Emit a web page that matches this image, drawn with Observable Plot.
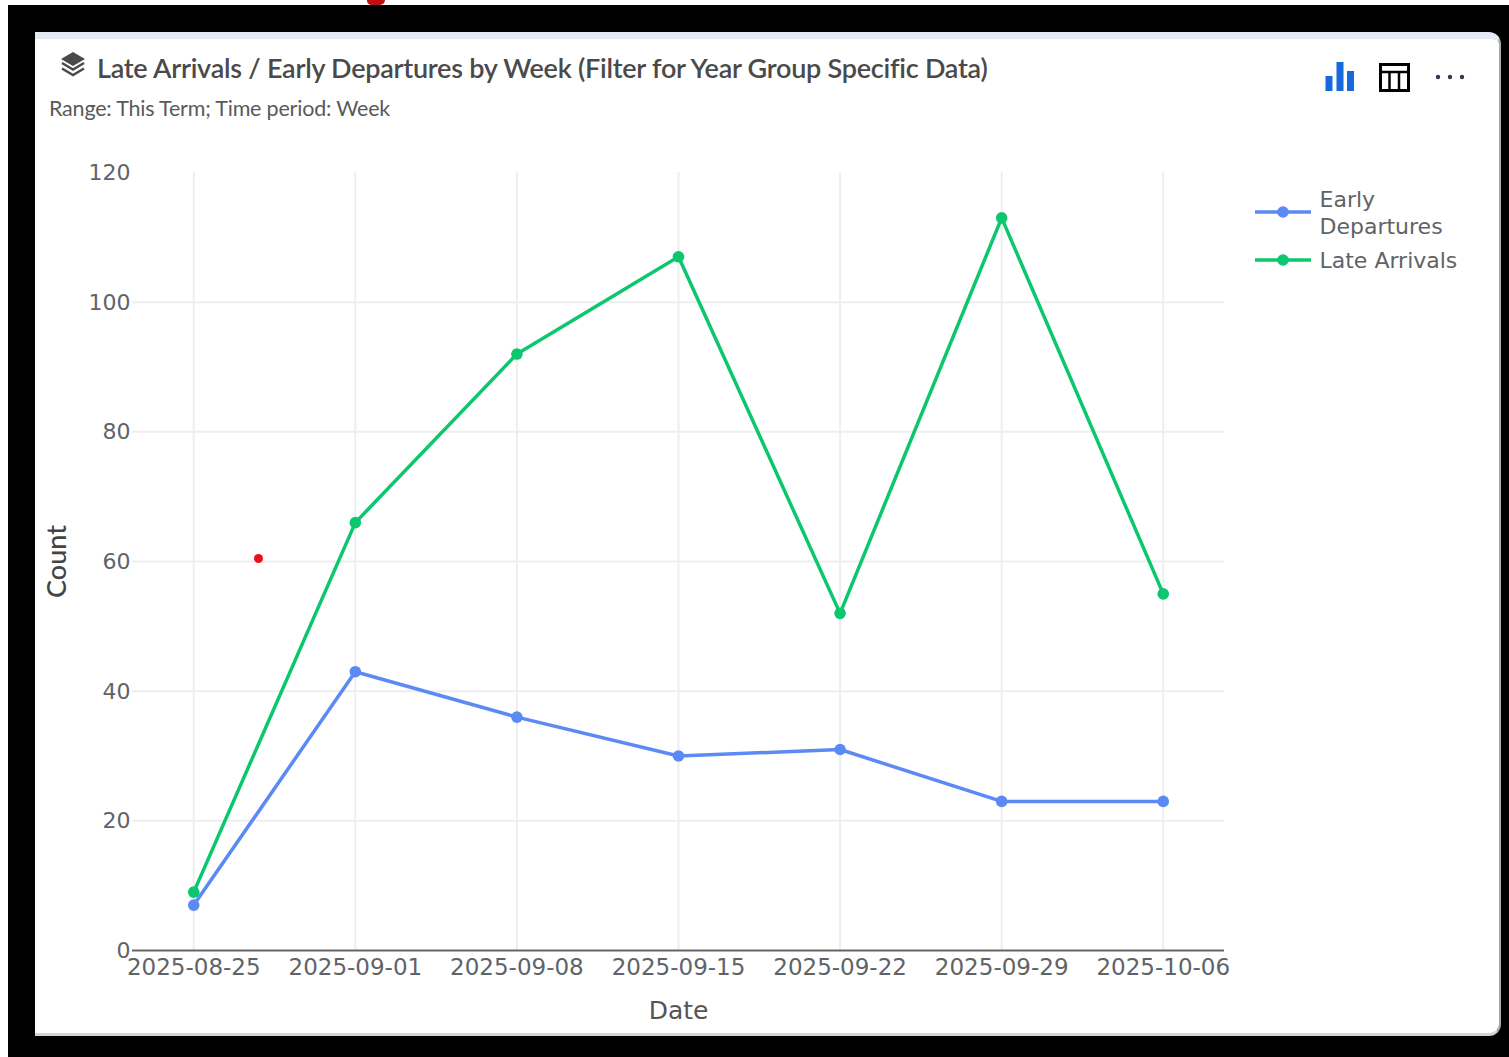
<!DOCTYPE html>
<html><head><meta charset="utf-8">
<script src="https://cdn.jsdelivr.net/npm/d3@7"></script>
<script src="https://cdn.jsdelivr.net/npm/@observablehq/plot@0.6"></script>
<style>
html,body{margin:0;padding:0;width:1509px;height:1057px;overflow:hidden;background:#fff}
#black{position:absolute;left:8px;top:5px;width:1501px;height:1052px;background:#000}
#card{position:absolute;left:35px;top:32px;width:1466px;height:1004px;background:#fff;border-radius:0 12px 12px 0;border-top:7px solid #e6eaf4;box-sizing:border-box;border-bottom:3px solid #d4d4d4;border-right:2px solid #aaa}
#title{position:absolute;left:97px;top:50.5px;font:600 27px/34px Lato,sans-serif;color:#4a4a4a;white-space:nowrap;letter-spacing:-.25px}
#sub{position:absolute;left:49px;top:95px;font:400 21.5px/27px Lato,sans-serif;color:#5a5a5a;white-space:nowrap;letter-spacing:-.2px}
#chart{position:absolute;left:35px;top:140px}
#chart svg{display:block;background:none;overflow:visible}
.ic{position:absolute}
#legend{position:absolute;left:1255px;top:186px;font:22px/27px "DejaVu Sans",sans-serif;color:#5f6368}
.li{position:absolute;left:64.500px;white-space:nowrap}
#legend svg{position:absolute;left:0}
#reddot{position:absolute;left:254px;top:554px;width:9px;height:9px;border-radius:50%;background:#e8101a}
#redtop{position:absolute;left:367px;top:0;width:18px;height:5px;background:#c01010;border-radius:0 0 10px 9px}
</style></head><body>
<div id="black"></div><div id="redtop"></div><div id="card"></div>
<svg class="ic" style="left:60px;top:51px" width="26" height="26" viewBox="0 0 26 26"><path d="M13 1 L25 8 L13 15 L1 8Z" fill="#4a4a4a"/><path d="M2 12 L13 18.500 L24 12 M2 17.500 L13 24 L24 17.500" fill="none" stroke="#4a4a4a" stroke-width="2.400"/></svg>
<div id="title">Late Arrivals / Early Departures by Week (Filter for Year Group Specific Data)</div>
<div id="sub">Range: This Term; Time period: Week</div>
<svg class="ic" style="left:1325px;top:62px" width="30" height="30"><path d="M0.500 14h7v15h-7zM11.500 0h7v29h-7zM22 9h7v20h-7z" fill="#1569dc"/></svg>
<svg class="ic" style="left:1378px;top:62px" width="34" height="30"><rect x="2.500" y="2.500" width="28" height="26" fill="none" stroke="#000" stroke-width="3"/><path d="M2 10h29M11.500 10v18M21 10v18" stroke="#000" stroke-width="2.500" fill="none"/></svg>
<svg class="ic" style="left:1434px;top:72px" width="32" height="10"><circle cx="4" cy="5" r="2.200" fill="#2c3a4f"/><circle cx="16" cy="5" r="2.200" fill="#2c3a4f"/><circle cx="28" cy="5" r="2.200" fill="#2c3a4f"/></svg>
<div id="chart"></div>
<div id="reddot"></div>
<div id="legend">
<svg style="top:19px" width="56" height="14"><path d="M0 7H56" stroke="#5b8af5" stroke-width="3.500"/><circle cx="28" cy="7" r="5.800" fill="#5b8af5"/></svg>
<div class="li" style="top:0">Early</div><div class="li" style="top:27px">Departures</div>
<svg style="top:67px" width="56" height="14"><path d="M0 7H56" stroke="#0cc76e" stroke-width="3.500"/><circle cx="28" cy="7" r="5.800" fill="#0cc76e"/></svg>
<div class="li" style="top:61px">Late Arrivals</div>
</div>
<script>
const dates=["2025-08-25","2025-09-01","2025-09-08","2025-09-15","2025-09-22","2025-09-29","2025-10-06"];
const earlyDepartures=[7,43,36,30,31,23,23];
const lateArrivals=[9,66,92,107,52,113,55];
const yTicks=[0,20,40,60,80,100,120];
const gridY=[20,40,60,80,100];
const blue="#5b8af5",green="#0cc76e";
const early=dates.map((d,i)=>({d,v:earlyDepartures[i]}));
const late=dates.map((d,i)=>({d,v:lateArrivals[i]}));
const tickColor="#5f6368";
const plot=Plot.plot({
  width:1466,height:896,marginLeft:97,marginRight:277,marginTop:32,marginBottom:86,
  style:{fontFamily:"'DejaVu Sans',sans-serif",fontSize:"22px",color:tickColor,background:"none"},
  x:{type:"point",domain:dates,padding:0.379,round:false,label:null},
  y:{domain:[0,120],label:null},
  marks:[
    Plot.gridX(dates,{stroke:"#eeeeee",strokeOpacity:1,strokeWidth:2}),
    Plot.gridY(gridY,{stroke:"#eeeeee",strokeOpacity:1,strokeWidth:2}),
    Plot.ruleY([0],{stroke:"#666",strokeWidth:2}),
    Plot.axisX(dates,{tickSize:0,tickPadding:8,label:null,fontSize:23,fill:tickColor}),
    Plot.axisY(yTicks,{tickSize:0,tickPadding:2,dy:0.5,label:null,fontSize:22,fill:tickColor}),
    Plot.text(["Date"],{frameAnchor:"bottom",dy:68,fontSize:25,fill:"#555"}),
    Plot.text(["Count"],{frameAnchor:"left",textAnchor:"middle",rotate:-90,dx:-75,dy:0,fontSize:27,fontWeight:500,fontFamily:"Lato,sans-serif",fill:"#444"}),
    Plot.line(early,{x:"d",y:"v",stroke:blue,strokeWidth:3.5}),
    Plot.dot(early,{x:"d",y:"v",r:5.8,fill:blue}),
    Plot.line(late,{x:"d",y:"v",stroke:green,strokeWidth:3.5}),
    Plot.dot(late,{x:"d",y:"v",r:5.8,fill:green})
  ]
});
document.getElementById("chart").appendChild(plot);
</script>
</body></html>
